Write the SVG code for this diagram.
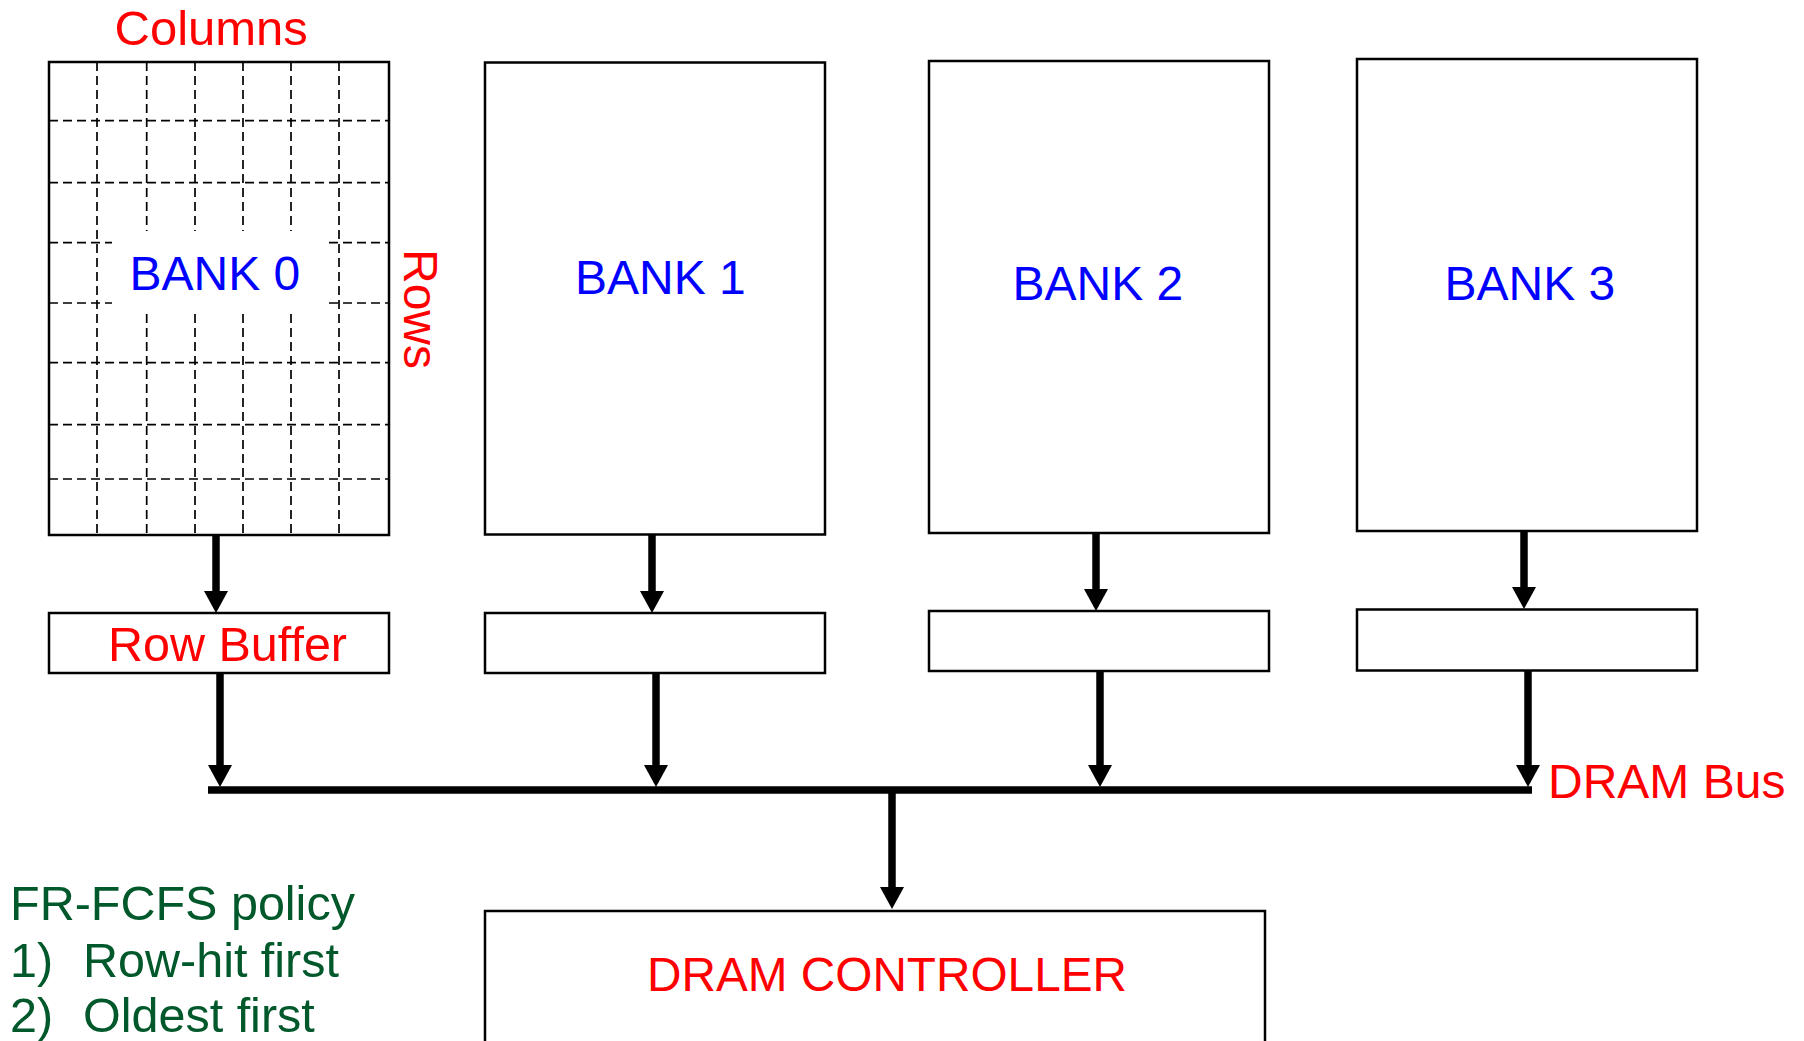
<svg xmlns="http://www.w3.org/2000/svg" width="1804" height="1041" viewBox="0 0 1804 1041">
<style>
.box{fill:#fff;stroke:#000;stroke-width:2.5}
.grid{stroke:#000;stroke-width:1.7;stroke-dasharray:9 5;fill:none}
.t{font-family:"Liberation Sans",Arial,sans-serif;font-size:48px}
.red{fill:#FF0000}
.blue{fill:#0000FF}
.green{fill:#00582B;font-size:48.5px}
.wire{stroke:#000;stroke-width:7.5;fill:none}
</style>
<defs>
<marker id="ah" markerUnits="userSpaceOnUse" markerWidth="24" markerHeight="24" refX="0" refY="12" orient="auto" viewBox="0 0 24 24">
<path d="M0,0 L22,12 L0,24 z" fill="#000"/>
</marker>
</defs>
<rect width="1804" height="1041" fill="#fff"/>
<text class="t red" x="114.5" y="45" style="font-size:49px">Columns</text>
<g id="bank0">
<rect class="box" x="49" y="62" width="340" height="473"/>
<g class="grid">
<line x1="49" y1="120.7" x2="389" y2="120.7"/>
<line x1="49" y1="182.7" x2="389" y2="182.7"/>
<line x1="49" y1="242.7" x2="389" y2="242.7"/>
<line x1="49" y1="303" x2="389" y2="303"/>
<line x1="49" y1="362.7" x2="389" y2="362.7"/>
<line x1="49" y1="424.7" x2="389" y2="424.7"/>
<line x1="49" y1="479" x2="389" y2="479"/>
<line x1="97" y1="62" x2="97" y2="535"/>
<line x1="146.7" y1="62" x2="146.7" y2="535"/>
<line x1="195" y1="62" x2="195" y2="535"/>
<line x1="243" y1="62" x2="243" y2="535"/>
<line x1="291" y1="62" x2="291" y2="535"/>
<line x1="339" y1="62" x2="339" y2="535"/>
</g>
<rect x="112" y="231" width="217" height="81" fill="#fff"/>
<text class="t blue" x="129.5" y="290">BANK 0</text>
</g>
<text class="t red" transform="translate(404,249) rotate(90)">Rows</text>
<g id="bank1">
<rect class="box" x="485" y="62.5" width="340" height="472"/>
<text class="t blue" x="575" y="294">BANK 1</text>
</g>
<g id="bank2">
<rect class="box" x="929" y="61" width="340" height="472"/>
<text class="t blue" x="1012.5" y="300">BANK 2</text>
</g>
<g id="bank3">
<rect class="box" x="1357" y="59" width="340" height="472"/>
<text class="t blue" x="1444.5" y="300">BANK 3</text>
</g>
<g id="rowbuffer0">
<rect class="box" x="49" y="613" width="340" height="60"/>
<text class="t red" x="108" y="661" style="font-size:48.5px">Row Buffer</text>
</g>
<g id="rowbuffer1">
<rect class="box" x="485" y="613" width="340" height="60"/>
</g>
<g id="rowbuffer2">
<rect class="box" x="929" y="611" width="340" height="60"/>
</g>
<g id="rowbuffer3">
<rect class="box" x="1357" y="609.5" width="340" height="61"/>
</g>
<g id="controller">
<rect class="box" x="485" y="911" width="780" height="150"/>
<text class="t red" x="647" y="991" textLength="480" lengthAdjust="spacingAndGlyphs">DRAM CONTROLLER</text>
</g>
<g id="connectors">
<line class="wire" x1="208" y1="790" x2="1532" y2="790"/>
<line class="wire" x1="216" y1="536" x2="216" y2="591" marker-end="url(#ah)"/>
<line class="wire" x1="652" y1="535" x2="652" y2="591" marker-end="url(#ah)"/>
<line class="wire" x1="1096" y1="533" x2="1096" y2="589" marker-end="url(#ah)"/>
<line class="wire" x1="1524" y1="531" x2="1524" y2="587" marker-end="url(#ah)"/>
<line class="wire" x1="220" y1="673" x2="220" y2="765" marker-end="url(#ah)"/>
<line class="wire" x1="656" y1="673" x2="656" y2="765" marker-end="url(#ah)"/>
<line class="wire" x1="1100" y1="671" x2="1100" y2="765" marker-end="url(#ah)"/>
<line class="wire" x1="1528" y1="670" x2="1528" y2="765" marker-end="url(#ah)"/>
<line class="wire" x1="892" y1="790" x2="892" y2="887" marker-end="url(#ah)"/>
</g>
<text class="t red" x="1548" y="798">DRAM Bus</text>
<g id="policy">
<text class="t green" x="10" y="920">FR-FCFS policy</text>
<text class="t green" x="10" y="977">1)</text>
<text class="t green" x="83" y="977">Row-hit first</text>
<text class="t green" x="10" y="1032">2)</text>
<text class="t green" x="83" y="1032">Oldest first</text>
</g>
</svg>
